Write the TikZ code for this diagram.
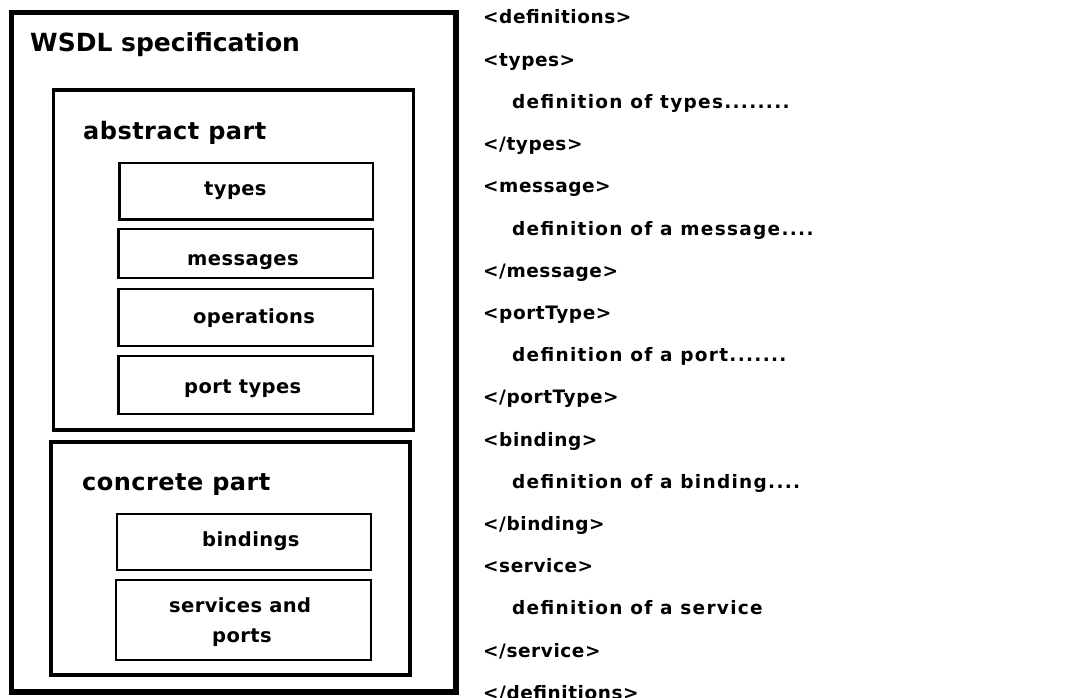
\documentclass[tikz,border=0pt]{standalone}
\usepackage{fontspec}
\setmainfont{DejaVu Sans}
\newfontfamily\codefont[LetterSpace=3]{DejaVu Sans}
\newfontfamily\bodyfont[LetterSpace=7]{DejaVu Sans}
\newfontfamily\labelfont[LetterSpace=2]{DejaVu Sans}
\begin{document}
\begin{tikzpicture}[x=1pt,y=-1pt,
  outerbox/.style={draw=black,line width=5.5pt},
  partbox/.style={draw=black,line width=3.5pt},
  itembox/.style={draw=black,line width=2.5pt},
  title/.style={font=\bfseries\fontsize{25}{28}\selectfont,anchor=base west,inner sep=0pt},
  parttitle/.style={font=\labelfont\bfseries\fontsize{24}{27}\selectfont,anchor=base west,inner sep=0pt},
  item/.style={font=\labelfont\bfseries\fontsize{19.5}{22}\selectfont,anchor=base west,inner sep=0pt},
  code/.style={font=\codefont\bfseries\fontsize{18.5}{21}\selectfont,anchor=base west,inner sep=0pt},
  codebody/.style={font=\bodyfont\bfseries\fontsize{18.5}{21}\selectfont,anchor=base west,inner sep=0pt}]
\useasboundingbox (0,0) rectangle (1090,698);
\clip (0,0) rectangle (1090,698);
\fill[white] (0,0) rectangle (1090,698);

% nested boxes of the specification
\draw[outerbox] (11.5,12.5) rectangle (456,692);
\node[title] (wsdl) at (30,52) {WSDL specification};

\draw[partbox] (53.5,90) rectangle (413.5,430);
\node[parttitle] (abs) at (83,140) {abstract part};
\draw[itembox] (119.5,163) rectangle (373,219.5);
\node[item] (types) at (204,195) {types};
\draw[itembox] (118.5,229) rectangle (373,278);
\node[item] (msgs) at (187,265) {messages};
\draw[itembox] (118.5,289) rectangle (373,346);
\node[item] (ops) at (193,323) {operations};
\draw[itembox] (118.5,356) rectangle (373,414);
\node[item] (ptypes) at (184,393) {port types};

\draw[partbox] (51,442) rectangle (410,675);
\node[parttitle] (conc) at (82,490) {concrete part};
\draw[itembox] (117,514) rectangle (371,570);
\node[item] (bind) at (202,546) {bindings};
\draw[itembox] (116,580) rectangle (371,660);
\node[item] (serv1) at (169,612) {services and};
\node[item] (serv2) at (212,642) {ports};

% document skeleton
\node[code] (l0)  at (483,24.0)  {<definitions>};
\node[code] (l1)  at (483,66.2)  {<types>};
\node[codebody] (l2)  at (512,108.4) {definition of types........};
\node[code] (l3)  at (483,150.6) {</types>};
\node[code] (l4)  at (483,192.8) {<message>};
\node[codebody] (l5)  at (512,235.0) {definition of a message....};
\node[code] (l6)  at (483,277.2) {</message>};
\node[code] (l7)  at (483,319.4) {<portType>};
\node[codebody] (l8)  at (512,361.6) {definition of a port.......};
\node[code] (l9)  at (483,403.8) {</portType>};
\node[code] (l10) at (483,446.0) {<binding>};
\node[codebody] (l11) at (512,488.2) {definition of a binding....};
\node[code] (l12) at (483,530.4) {</binding>};
\node[code] (l13) at (483,572.6) {<service>};
\node[codebody] (l14) at (512,614.8) {definition of a service};
\node[code] (l15) at (483,657.0) {</service>};
\node[code] (l16) at (483,699.2) {</definitions>};
\end{tikzpicture}
\end{document}
